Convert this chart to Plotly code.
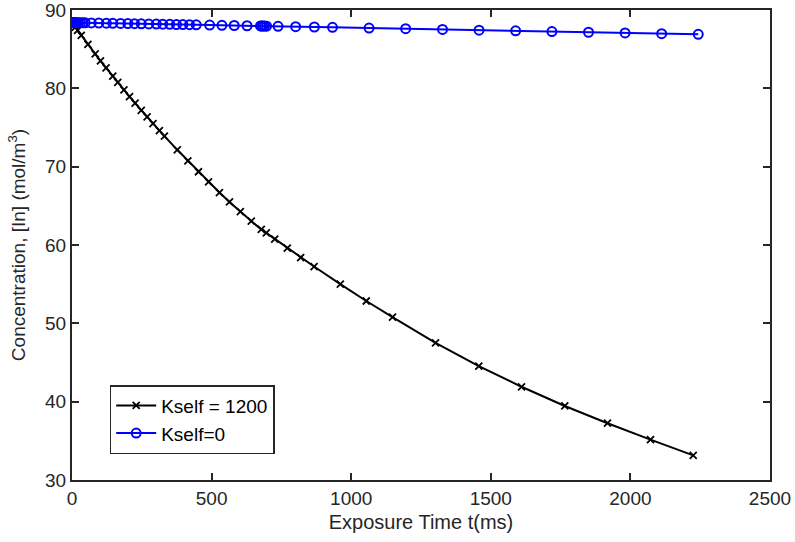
import plotly.graph_objects as go

# Kself = 1200 (black, x markers)
t_k1200 = [0, 3, 7, 12, 20, 33, 57, 83, 102, 122, 146, 164, 186, 206, 226, 248, 269, 290,
           313, 331, 377, 415, 453, 489, 528, 564, 603, 642, 678,
           696, 726, 771, 819, 867, 961, 1054, 1148, 1302, 1457, 1610, 1765, 1918, 2072, 2225]
c_k1200 = [88.40, 88.25, 88.05, 87.80, 87.40, 86.75, 85.60, 84.40, 83.50, 82.60, 81.55, 80.75,
           79.80, 78.95, 78.10, 77.20, 76.35, 75.50, 74.60, 73.90, 72.15, 70.75, 69.35, 68.05,
           66.70, 65.50, 64.25, 63.05, 62.00,
           61.55, 60.75, 59.60, 58.40, 57.25, 55.00, 52.85, 50.80, 47.50, 44.55, 41.90, 39.45,
           37.25, 35.15, 33.15]

# Kself = 0 (blue, circle markers)
t_k0 = [0, 0.5, 1.5, 3, 5, 8, 12, 17, 23, 30, 38, 47, 69, 96, 123, 146, 174, 200, 224, 248,
        275, 302, 325, 350, 374, 397, 421, 445, 493, 537, 581, 627, 675,
        679, 684, 690, 697, 738, 801, 868, 933, 1064, 1195, 1327, 1458, 1589, 1719, 1850,
        1981, 2112, 2243]
c_k0 = [88.40, 88.40, 88.40, 88.40, 88.40, 88.39, 88.39, 88.39, 88.38, 88.38, 88.37, 88.37,
        88.35, 88.34, 88.32, 88.30, 88.29, 88.27, 88.25, 88.24, 88.22, 88.20, 88.19, 88.17,
        88.15, 88.14, 88.12, 88.11, 88.07, 88.05, 88.02, 87.99, 87.96,
        87.95, 87.95, 87.95, 87.94, 87.91, 87.87, 87.83, 87.79, 87.70, 87.61, 87.52, 87.43,
        87.34, 87.25, 87.16, 87.07, 86.98, 86.89]

x_ticks = [0, 500, 1000, 1500, 2000, 2500]
y_ticks = [30, 40, 50, 60, 70, 80, 90]

AX = "#262626"
FONT = "Liberation Sans, Arial, sans-serif"
FS = 19

fig = go.Figure()
fig.add_trace(go.Scatter(
    x=t_k1200, y=c_k1200, mode="lines+markers", name="Kself = 1200",
    line=dict(color="black", width=2),
    marker=dict(symbol="x-thin", size=7, line=dict(color="black", width=1.8)),
))
fig.add_trace(go.Scatter(
    x=t_k0, y=c_k0, mode="lines+markers", name="Kself=0",
    line=dict(color="#0000ff", width=2),
    marker=dict(symbol="circle-open", size=9, color="#0000ff", line=dict(color="#0000ff", width=2)),
))

axis_common = dict(
    showline=True, linecolor=AX, linewidth=2, mirror="ticks",
    ticks="inside", ticklen=7, tickwidth=2, tickcolor=AX,
    showgrid=False, zeroline=False, automargin=False,
    ticklabeloverflow="allow",
    tickfont=dict(family=FONT, size=FS, color=AX),
)

fig.update_layout(
    width=795, height=542,
    margin=dict(l=72, r=25, t=10, b=62),
    paper_bgcolor="white", plot_bgcolor="white",
    font=dict(family=FONT, size=FS, color=AX),
    xaxis=dict(range=[0, 2500], tickvals=x_ticks, ticktext=[str(v) for v in x_ticks],
               title=dict(text="Exposure Time t(ms)", font=dict(family=FONT, size=20, color=AX), standoff=7),
               **axis_common),
    yaxis=dict(range=[30, 90], tickvals=y_ticks, ticktext=[str(v) for v in y_ticks],
               title=dict(text="Concentration, [In] (mol/m<sup>3</sup>)", font=dict(family=FONT, size=FS, color=AX), standoff=14),
               **axis_common),
    legend=dict(x=0.054, y=0.202, xanchor="left", yanchor="top",
                bgcolor="white", bordercolor=AX, borderwidth=1.5,
                font=dict(family=FONT, size=19, color="black"),
                tracegroupgap=0, itemwidth=40),
    showlegend=True,
)

fig.write_html("out.html", config={"displayModeBar": False},
               post_script="document.body.style.margin='0px';")
